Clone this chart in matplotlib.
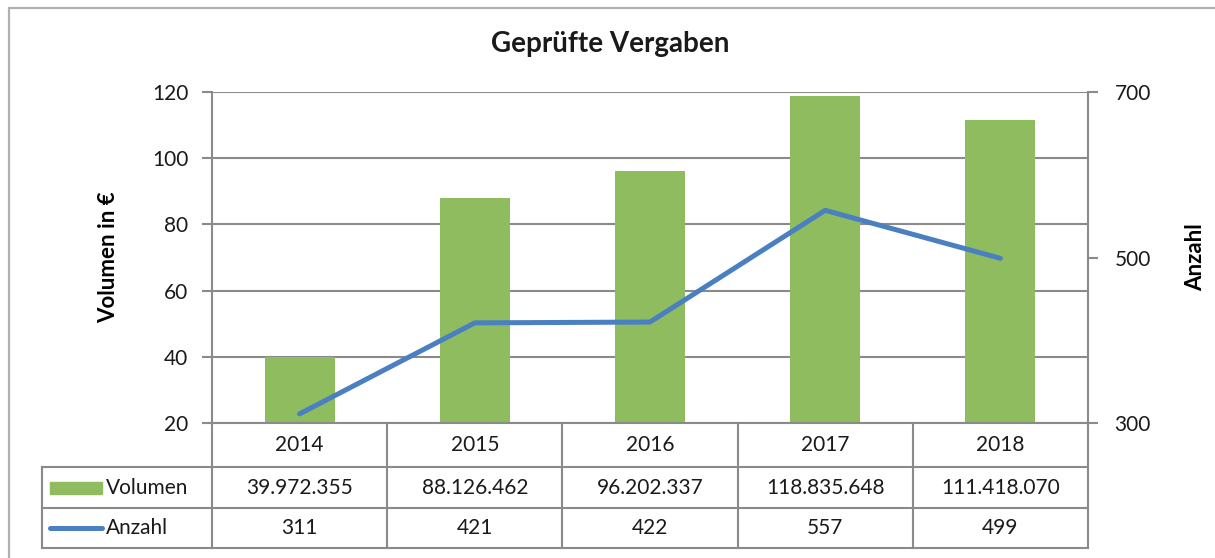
import matplotlib.pyplot as plt
from matplotlib.lines import Line2D
from matplotlib.patches import Rectangle
import matplotlib.transforms as mtransforms

years = ['2014', '2015', '2016', '2017', '2018']
volumen = [39.972355, 88.126462, 96.202337, 118.835648, 111.418070]
volumen_labels = ['39.972.355', '88.126.462', '96.202.337', '118.835.648', '111.418.070']
anzahl = [311, 421, 422, 557, 499]

plt.rcParams['font.family'] = ['Lato', 'DejaVu Sans']

W, H = 1215, 558
green = '#8fbc5f'
blue = '#4a7fc1'
grid_c = '#8a8a8a'
text_c = '#1a1a1a'


def fx(px):
    return px / W


def fy(py):
    return 1 - py / H


def main():
    fig = plt.figure(figsize=(W / 100, H / 100), dpi=100)

    # outer frame (only top/left visible in the reference)
    fig.patches.append(Rectangle((fx(9), fy(600)), fx(1300), (600 - 8) / H,
                                 transform=fig.transFigure, fill=False,
                                 edgecolor='#b0b0b0', lw=1.6))

    left, right, top, bottom = 212, 1088, 92, 423
    ax = fig.add_axes([fx(left), fy(bottom), fx(right - left), (bottom - top) / H])
    x = list(range(len(years)))

    ax.bar(x, [v - 20 for v in volumen], bottom=20, width=0.4, color=green, zorder=2)
    ax.set_xlim(-0.5, len(years) - 0.5)
    ax.set_ylim(20, 120)
    ax.set_yticks([20, 40, 60, 80, 100, 120])
    ax.yaxis.grid(True, color=grid_c, lw=1.5, zorder=0)
    ax.set_axisbelow(True)
    ax.set_xticks([])
    for s in ['top', 'right', 'bottom']:
        ax.spines[s].set_visible(False)
    ax.spines['left'].set_color(grid_c)
    ax.spines['left'].set_linewidth(1.5)
    ax.tick_params(axis='y', length=7, width=1.5, color=grid_c, labelsize=15,
                   labelcolor=text_c, pad=10)
    ax.set_ylabel('Volumen in €', fontsize=16, fontweight='bold', labelpad=24)

    ax2 = ax.twinx()
    ax2.plot(x, anzahl, color=blue, lw=3.6, solid_capstyle='round', zorder=3)
    ax2.set_ylim(300, 700)
    ax2.set_yticks([300, 500, 700])
    for s in ['top', 'left', 'bottom']:
        ax2.spines[s].set_visible(False)
    ax2.spines['right'].set_color(grid_c)
    ax2.spines['right'].set_linewidth(1.5)
    ax2.tick_params(axis='y', length=7, width=1.5, color=grid_c, labelsize=15,
                    labelcolor=text_c, pad=12)
    ax2.set_ylabel('Anzahl', fontsize=16, fontweight='bold', labelpad=25)

    # data table below the plot
    h_ax = bottom - top
    rows = [467, 508, 548]
    ry = [-(r - bottom) / h_ax for r in rows]
    trans = mtransforms.blended_transform_factory(ax.transData, ax.transAxes)
    lkw = dict(color=grid_c, lw=1.5, clip_on=False, zorder=5)

    # horizontal lines
    ax.add_line(Line2D([0, 1], [0, 0], transform=ax.transAxes, **lkw))
    lab_left = -(left - 42) / (right - left)
    for yy in ry:
        ax.add_line(Line2D([lab_left, 1], [yy, yy], transform=ax.transAxes, **lkw))
    # vertical lines
    for i in range(len(years) + 1):
        ax.add_line(Line2D([i - 0.5, i - 0.5], [0, ry[-1]], transform=trans, **lkw))
    ax.add_line(Line2D([lab_left, lab_left], [ry[0], ry[-1]], transform=ax.transAxes, **lkw))

    ymid = [(0 + ry[0]) / 2, (ry[0] + ry[1]) / 2, (ry[1] + ry[2]) / 2]
    for i in x:
        ax.text(i, ymid[0], years[i], transform=trans, ha='center', va='center',
                fontsize=15, color=text_c)
        ax.text(i, ymid[1], volumen_labels[i], transform=trans, ha='center', va='center',
                fontsize=15, color=text_c)
        ax.text(i, ymid[2], str(anzahl[i]), transform=trans, ha='center', va='center',
                fontsize=15, color=text_c)

    # legend keys in the table
    k0 = -(left - 50) / (right - left)
    k1 = -(left - 102) / (right - left)
    ax.add_patch(Rectangle((k0, ymid[1] - 6 / h_ax), k1 - k0, 12 / h_ax,
                           transform=ax.transAxes, color=green, clip_on=False))
    ax.add_line(Line2D([k0, k1], [ymid[2], ymid[2]], transform=ax.transAxes,
                       color=blue, lw=3.6, solid_capstyle='round', clip_on=False))
    tx = -(left - 106) / (right - left)
    ax.text(tx, ymid[1], 'Volumen', transform=ax.transAxes, ha='left', va='center',
            fontsize=15, color=text_c)
    ax.text(tx, ymid[2], 'Anzahl', transform=ax.transAxes, ha='left', va='center',
            fontsize=15, color=text_c)

    fig.text(fx(610), fy(44), 'Geprüfte Vergaben', ha='center', va='center',
             fontsize=20, fontweight='bold', color=text_c)

    fig.savefig('out.png', dpi=100)


if __name__ == '__main__':
    main()
